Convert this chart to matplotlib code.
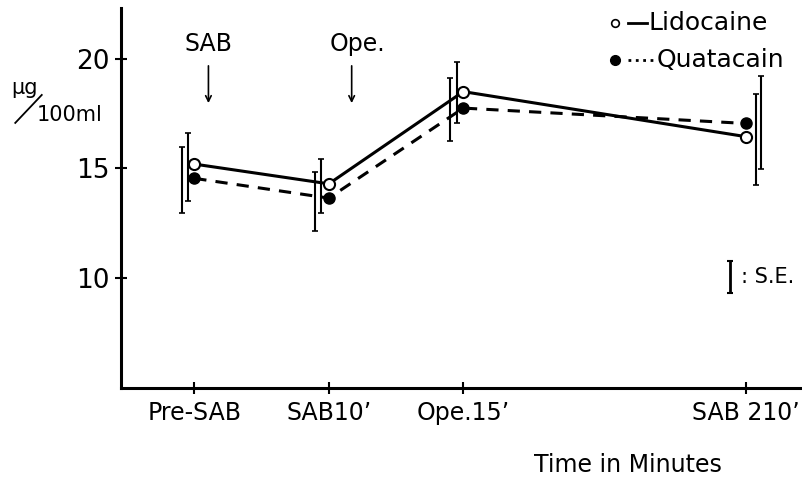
import matplotlib.pyplot as plt
import numpy as np

plt.rcParams['font.family'] = ['DejaVu Sans']

# time points (position on the time axis) and labels
times = [0, 1, 2, 4.1]
time_labels = ["Pre-SAB", "SAB10\u2019", "Ope.15\u2019", "SAB 210\u2019"]

# mean values (ug/100ml)
lido = [15.2, 14.3, 18.5, 16.45]
quata = [14.55, 13.65, 17.75, 17.05]

# S.E. bars: centre and half-length
lido_se_mid = [15.07, 14.2, 18.47, 16.33]
lido_se = [1.53, 1.25, 1.39, 2.08]
quata_se_mid = [14.46, 13.5, 17.7, 17.1]
quata_se = [1.5, 1.35, 1.43, 2.12]
# small horizontal shift of the bars next to the points
lido_shift = [-0.05, -0.06, -0.045, 0.075]
quata_shift = [-0.09, -0.1, -0.1, 0.11]

fig = plt.figure(figsize=(8.03, 4.82), dpi=100)
ax = fig.add_axes([0.1507, 0.195, 0.845, 0.788])

ax.plot(times, lido, '-', color='black', lw=2.2, marker='o', ms=8,
        mfc='white', mec='black', mew=1.5, zorder=3)
ax.plot(times, quata, '--', color='black', lw=2.2, marker='o', ms=8,
        mfc='black', mec='black', dashes=(4, 3), zorder=3)

ax.errorbar(np.array(times) + np.array(lido_shift), lido_se_mid, yerr=lido_se,
            fmt='none', ecolor='black', elinewidth=1.5, capsize=2, capthick=1.2)
ax.errorbar(np.array(times) + np.array(quata_shift), quata_se_mid, yerr=quata_se,
            fmt='none', ecolor='black', elinewidth=1.5, capsize=2, capthick=1.2)

ax.set_xlim(-0.545, 4.5)
ax.set_ylim(5, 22.3)
ax.set_xticks(times)
ax.set_xticklabels(time_labels, fontsize=17)
ax.set_yticks([10, 15, 20])
ax.set_yticklabels(["10", "15", "20"], fontsize=19)
ax.tick_params(axis='x', direction='inout', length=8, width=1.5, pad=5)
ax.tick_params(axis='y', direction='inout', length=8, width=1.5, pad=4)

for s in ['top', 'right']:
    ax.spines[s].set_visible(False)
for s in ['left', 'bottom']:
    ax.spines[s].set_linewidth(2.2)

# event arrows
ax.annotate("", xy=(0.105, 17.85), xytext=(0.105, 19.8),
            arrowprops=dict(arrowstyle='->', lw=1.2, color='black'))
ax.text(0.105, 20.65, "SAB", ha='center', va='center', fontsize=17)
ax.annotate("", xy=(1.17, 17.85), xytext=(1.17, 19.8),
            arrowprops=dict(arrowstyle='->', lw=1.2, color='black'))
ax.text(1.215, 20.65, "Ope.", ha='center', va='center', fontsize=17)

# legend drawn by hand
ax.plot([0.7275], [0.96], 'o', ms=5.5, mfc='white', mec='black', mew=1.2,
        transform=ax.transAxes, clip_on=False)
ax.plot([0.747, 0.775], [0.96, 0.96], '-', color='black', lw=2,
        transform=ax.transAxes, clip_on=False)
ax.text(0.777, 0.96, "Lidocaine", va='center', fontsize=18, transform=ax.transAxes)
ax.plot([0.7275], [0.863], 'o', ms=7, mfc='black', mec='black',
        transform=ax.transAxes, clip_on=False)
ax.plot([0.747, 0.786], [0.863, 0.863], ':', color='black', lw=2,
        transform=ax.transAxes, clip_on=False)
ax.text(0.789, 0.863, "Quatacain", va='center', fontsize=18, transform=ax.transAxes)

# S.E. key
ax.errorbar([0.897], [0.292], yerr=[0.043], fmt='none', ecolor='black',
            elinewidth=2, capsize=2.5, capthick=1.5,
            transform=ax.transAxes, clip_on=False)
ax.text(0.914, 0.292, ": S.E.", va='center', fontsize=15, transform=ax.transAxes)

# y unit label
fig.text(0.03, 0.817, "\u03bcg", fontsize=15, ha='center', va='center')
fig.text(0.087, 0.761, "100ml", fontsize=15, ha='center', va='center')
fig.add_artist(plt.Line2D([0.019, 0.052], [0.745, 0.803], color='black', lw=1.3))

fig.text(0.782, 0.035, "Time in Minutes", ha='center', va='center', fontsize=17)

fig.savefig("out.png", dpi=100)
